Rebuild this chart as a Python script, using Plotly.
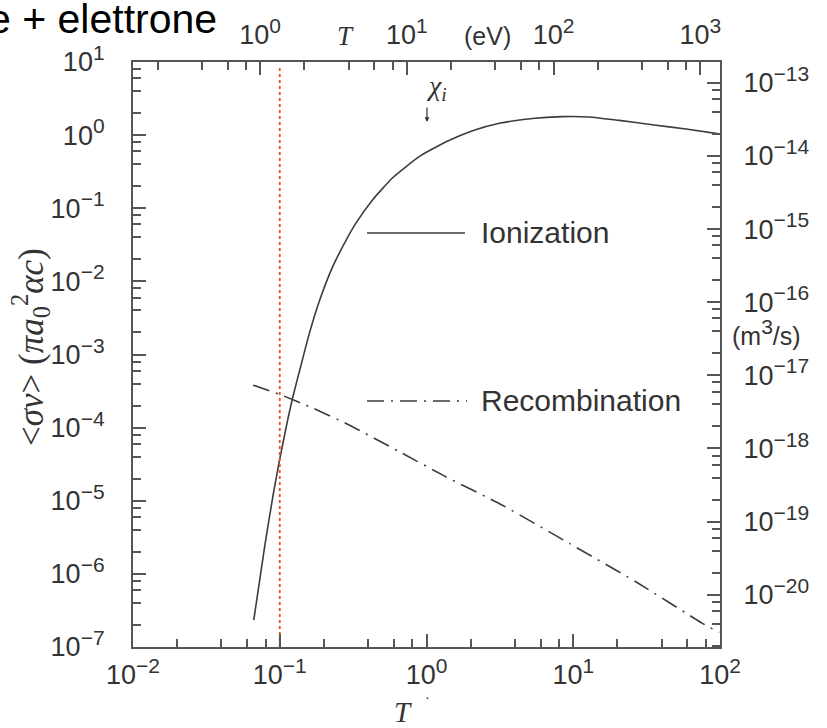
import math
import plotly.graph_objects as go

# Hydrogen: electron-impact ionization and radiative recombination rate
# coefficients, <sigma v> in units of pi*a0^2*alpha*c, vs T in Rydberg units.
ion_T = [0.0665, 0.0791, 0.0900, 0.0988, 0.111, 0.123, 0.141, 0.157, 0.187,
         0.230, 0.284, 0.333, 0.430, 0.588, 0.896, 1.36, 2.06, 3.14, 5.26,
         8.41, 12.8, 20.6, 34.5, 58.7, 98.5]
ion_rate = [2.33e-7, 2.44e-6, 1.18e-5, 3.29e-5, 1.05e-4, 2.67e-4, 7.7e-4, 1.77e-3,
            5.52e-3, 0.0160, 0.0370, 0.0640, 0.131, 0.261, 0.512, 0.811, 1.15,
            1.45, 1.69, 1.79, 1.77, 1.59, 1.39, 1.21, 1.04]

rec_T = [0.0658, 0.0989, 0.168, 0.299, 0.655, 1.36, 3.29, 9.4, 26.7, 75.5, 98.5]
rec_rate = [3.81e-4, 2.87e-4, 1.85e-4, 1.08e-4, 4.67e-5, 2.12e-5, 8.7e-6,
            2.61e-6, 7.8e-7, 2.12e-7, 1.58e-7]

marker_T = 0.1           # reference temperature (vertical dotted line)
marker_span = [1e-7, 8.5]

RYDBERG_EV = 13.6        # T unit in eV
RATE_UNIT = 1.925e-14    # pi*a0^2*alpha*c in m^3/s

x_range = [1e-2, 1e2]
y_range = [1e-7, 1e1]

SUP = "<sup><span style='font-size:21px'>%s</span></sup>"


def pow_label(k):
    return "10" + SUP % (("−%d" % -k) if k < 0 else str(k))


bottom_exp = [-2, -1, 0, 1, 2]
top_exp = [0, 1, 2, 3]
left_exp = list(range(-7, 2))
right_exp = list(range(-20, -12))


def minor_vals(lo, hi):
    vals = []
    for k in range(lo, hi + 1):
        for m in (2, 4, 6, 8):
            vals.append(m * 10.0 ** k)
    return vals


# plot-area geometry (px) used for placing text labels
W, H = 827, 728
L, R, T, B = 133, 720, 62, 647


def px(x):
    return (x - L) / (R - L)


def py(y):
    return (B - y) / (B - T)


INK = "#3c3c3c"
AX = "#555555"
SANS = "Liberation Sans, Arial, sans-serif"
SERIF = "Liberation Serif, DejaVu Serif, serif"
DASHDOT = "17px,7px,2px,7px"

fig = go.Figure()

fig.add_trace(go.Scatter(
    x=ion_T, y=ion_rate, mode="lines", name="Ionization",
    line=dict(color=INK, width=1.6, shape="spline", smoothing=0.5),
    showlegend=False, hoverinfo="skip"))

fig.add_trace(go.Scatter(
    x=rec_T, y=rec_rate, mode="lines", name="Recombination",
    line=dict(color=INK, width=1.6, dash=DASHDOT, shape="spline", smoothing=0.5),
    showlegend=False, hoverinfo="skip"))

fig.add_trace(go.Scatter(
    x=[marker_T, marker_T], y=marker_span, mode="lines",
    line=dict(color="#f04a1e", width=1.8, dash="dot"),
    showlegend=False, hoverinfo="skip"))

# same ionization data in physical units, binds the eV / m^3/s axes
fig.add_trace(go.Scatter(
    x=[t * RYDBERG_EV for t in ion_T], y=[r * RATE_UNIT for r in ion_rate],
    xaxis="x2", yaxis="y2", mode="lines", line=dict(width=0, color="rgba(0,0,0,0)"),
    showlegend=False, hoverinfo="skip"))

tick_common = dict(
    ticks="inside", ticklen=13, tickwidth=1.5, tickcolor=AX,
    showline=True, linecolor=AX, linewidth=2, showgrid=False, zeroline=False,
    type="log", tickmode="array",
    tickfont=dict(family=SANS, size=27, color="#333333"),
)


def minor(lo, hi):
    return dict(tickvals=minor_vals(lo, hi), ticks="inside", ticklen=8,
                tickwidth=1.5, tickcolor=AX)


fig.update_layout(
    width=W, height=H,
    margin=dict(l=L, r=W - R, t=T, b=H - B),
    paper_bgcolor="white", plot_bgcolor="white",
    showlegend=False,
    xaxis=dict(
        range=[math.log10(x_range[0]), math.log10(x_range[1])],
        tickvals=[10.0 ** k for k in bottom_exp],
        ticktext=[pow_label(k) for k in bottom_exp],
        ticklabelstandoff=3, minor=minor(-2, 1), **tick_common),
    xaxis2=dict(
        overlaying="x", side="top", anchor="y",
        range=[math.log10(x_range[0] * RYDBERG_EV), math.log10(x_range[1] * RYDBERG_EV)],
        tickvals=[10.0 ** k for k in top_exp],
        ticktext=[pow_label(k) for k in top_exp],
        ticklabelstandoff=5, minor=minor(-1, 2), **tick_common),
    yaxis=dict(
        range=[math.log10(y_range[0]), math.log10(y_range[1])],
        tickvals=[10.0 ** k for k in left_exp],
        ticktext=[pow_label(k) for k in left_exp],
        ticklabelstandoff=21, minor=minor(-7, 0), **tick_common),
    yaxis2=dict(
        overlaying="y", side="right", anchor="x",
        range=[math.log10(y_range[0] * RATE_UNIT), math.log10(y_range[1] * RATE_UNIT)],
        tickvals=[10.0 ** k for k in right_exp],
        ticktext=[pow_label(k) for k in right_exp],
        ticklabelstandoff=16, minor=minor(-21, -13), **tick_common),
)

# legend samples
fig.add_shape(type="line", xref="paper", yref="paper",
              x0=px(367), x1=px(465), y0=py(233), y1=py(233),
              line=dict(color=INK, width=1.6))
fig.add_shape(type="line", xref="paper", yref="paper",
              x0=px(367), x1=px(467), y0=py(401), y1=py(401),
              line=dict(color=INK, width=1.6, dash=DASHDOT))


def label(text, x, y, size, family=SANS, xanchor="center", color="#333333", angle=0):
    fig.add_annotation(text=text, x=px(x), y=py(y), xref="paper", yref="paper",
                       xanchor=xanchor, yanchor="middle", showarrow=False,
                       textangle=angle, font=dict(family=family, size=size, color=color))


label("e + elettrone", -14, 19, 41, xanchor="left", color="black")
label("<i>T</i>", 345, 36, 27, family=SERIF)
label("(eV)", 487, 36, 25)
label("<i>χ<sub>i</sub></i>", 436, 88, 28, family=SERIF)
label("Ionization", 479, 233, 30, xanchor="left")
label("Recombination", 479, 401, 30, xanchor="left")
label("(m" + SUP % "3" + "/s)", 766, 332, 25)
label("<i>T</i>", 403, 712, 29, family=SERIF)
label("·", 428, 697, 14)
label("&lt;<i>σv</i>&gt; (<i>πa</i><sub>0</sub><sup>2</sup><i>αc</i>)", 30, 347, 35,
      family=SERIF, angle=-90)

# small arrow under chi_i
fig.add_annotation(x=px(427), y=py(122), xref="paper", yref="paper",
                   ax=0, ay=-16, axref="pixel", ayref="pixel", text="",
                   showarrow=True, arrowhead=2, arrowsize=0.8, arrowwidth=1.2,
                   arrowcolor="#333333")

fig.write_html("out.html")
